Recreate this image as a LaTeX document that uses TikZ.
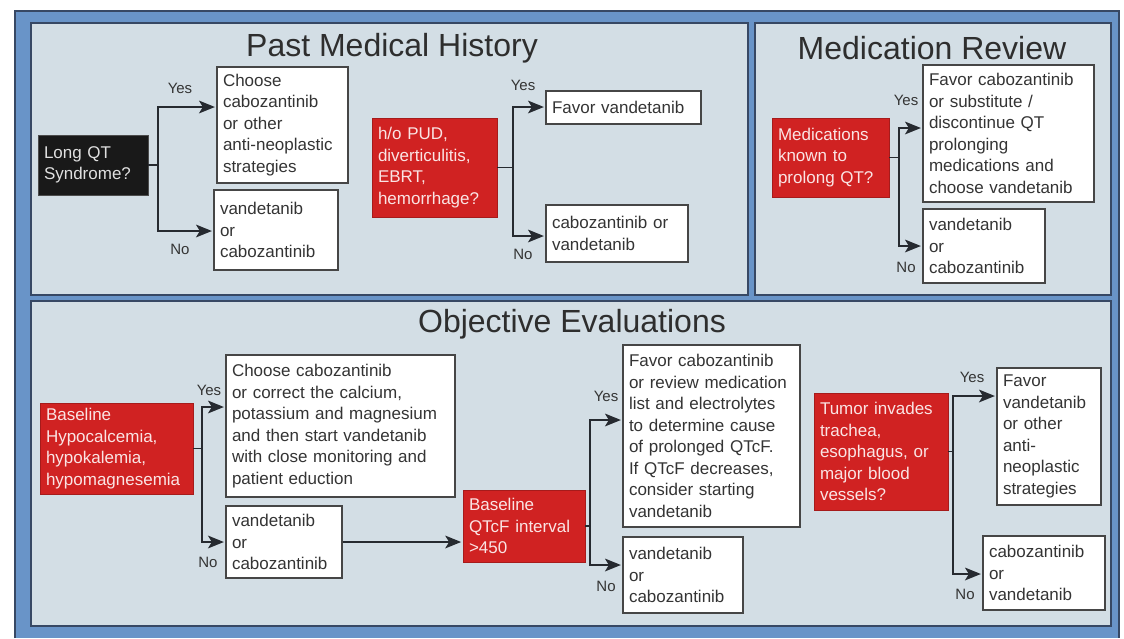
\documentclass[tikz,border=0pt]{standalone}
\usepackage{fontspec}
\setmainfont{Liberation Sans}
\usetikzlibrary{arrows.meta}
\definecolor{bandblue}{RGB}{105,148,200}
\definecolor{panelfill}{RGB}{211,222,229}
\definecolor{darkline}{RGB}{55,72,100}
\definecolor{redbox}{RGB}{208,34,34}
\definecolor{txtgray}{RGB}{52,52,52}
\definecolor{conn}{RGB}{38,42,48}
\definecolor{boxline}{RGB}{70,70,70}
\definecolor{redtext}{RGB}{250,228,228}
\newcommand\mybox[7]{%
  \pgfmathsetmacro\bw{#5-#3}\pgfmathsetmacro\bh{#6-#4}\pgfmathsetmacro\tw{#5-#3-12}%
  \pgfmathsetmacro\cx{(#3+#5)/2}\pgfmathsetmacro\cy{(#4+#6)/2}%
  \node[#1, minimum width=\bw pt, minimum height=\bh pt, text width=\tw pt] (#2) at (\cx,\cy) {#7};}
\tikzset{
  basebox/.style={rectangle, inner xsep=6pt, inner ysep=2pt, align=left,
    font=\fontsize{17}{21.5}\selectfont},
  wbox/.style={basebox, draw=boxline, line width=1.3pt, fill=white, text=txtgray},
  rbox/.style={basebox, fill=redbox, draw=redbox!80!black, line width=0.8pt, text=redtext},
  kbox/.style={basebox, fill=black!90, draw=black!70, line width=0.8pt, text=white!88!black},
  paneltitle/.style={font=\fontsize{32}{36}\selectfont, text=black!82, inner sep=0pt},
  yn/.style={font=\fontsize{15}{17}\selectfont, text=txtgray, inner sep=0pt},
  conline/.style={draw=conn, line width=1.5pt},
  arr/.style={conline, -{Stealth[length=16pt,width=13pt,inset=4pt,line width=0pt]}, shorten >=1.5pt},
  panel/.style={fill=panelfill, draw=darkline, line width=1.2pt},
}
\begin{document}
\begin{tikzpicture}[x=1pt,y=-1pt]
\useasboundingbox (0,0) rectangle (1124,638);
\fill[white] (0,0) rectangle (1124,638);
% frame
\fill[bandblue] (15,11) rectangle (1119,638);
\draw[darkline, line width=1.2pt] (15,638) -- (15,11) -- (1119,11) -- (1119,638);
\draw[panel] (31,23) rectangle (748,295);
\draw[panel] (755,23) rectangle (1111,295);
\draw[panel] (31,301) rectangle (1111,626);

% ---------- Past Medical History ----------
\node[paneltitle] (t1) at (392,48) {Past Medical History};
\mybox{kbox}{lq}{38}{135}{148}{195}{Long QT\\Syndrome?}
\mybox{wbox}{c1}{217}{67}{348}{183}{Choose\\cabozantinib\\or other\\anti-neoplastic\\strategies}
\mybox{wbox}{c2}{214}{190}{338}{270}{vandetanib\\or\\cabozantinib}
\coordinate (j1y) at (158,107);
\coordinate (j1n) at (158,231);
\draw[arr] (lq.east) -| (j1y) -- (j1y -| c1.west);
\draw[arr] (lq.east) -| (j1n) -- (j1n -| c2.west);
\node[yn] (y1) at (180,88) {Yes};
\node[yn] (n1) at (180,249) {No};

\mybox{rbox}{pud}{372}{118}{497}{217}{h/o PUD,\\diverticulitis,\\EBRT,\\hemorrhage?}
\mybox{wbox}{fv}{546}{91}{701}{124}{Favor vandetanib}
\mybox{wbox}{cv}{546}{205}{688}{262}{cabozantinib or\\vandetanib}
\coordinate (j2y) at (513,107);
\coordinate (j2n) at (513,236);
\draw[arr] (pud.east) -| (j2y) -- (j2y -| fv.west);
\draw[arr] (pud.east) -| (j2n) -- (j2n -| cv.west);
\node[yn] (y2) at (523,85) {Yes};
\node[yn] (n2) at (523,254) {No};

% ---------- Medication Review ----------
\node[paneltitle] (t2) at (932,48) {Medication Review};
\mybox{rbox}{med}{772}{118}{889}{197}{Medications\\known to\\prolong QT?}
\mybox{wbox}{mf}{923}{65}{1094}{202}{Favor cabozantinib\\or substitute /\\discontinue QT\\prolonging\\medications and\\choose vandetanib}
\mybox{wbox}{mv}{923}{209}{1045}{283}{vandetanib\\or\\cabozantinib}
\coordinate (j3y) at (899,128);
\coordinate (j3n) at (899,246);
\draw[arr] (med.east) -| (j3y) -- (j3y -| mf.west);
\draw[arr] (med.east) -| (j3n) -- (j3n -| mv.west);
\node[yn] (y3) at (906,100) {Yes};
\node[yn] (n3) at (906,267) {No};

% ---------- Objective Evaluations ----------
\node[paneltitle] (t3) at (572,324) {Objective Evaluations};
\mybox{rbox}{hc}{40}{403}{193}{494}{Baseline\\Hypocalcemia,\\hypokalemia,\\hypomagnesemia}
\mybox{wbox}{oc}{226}{355}{455}{497}{Choose cabozantinib\\or correct the calcium,\\potassium and magnesium\\and then start vandetanib\\with close monitoring and\\patient eduction}
\mybox{wbox}{ov}{226}{506}{342}{578}{vandetanib\\or\\cabozantinib}
\coordinate (j4y) at (202,407);
\coordinate (j4n) at (202,542);
\draw[arr] (hc.east) -| (j4y) -- (j4y -| oc.west);
\draw[arr] (hc.east) -| (j4n) -- (j4n -| ov.west);
\node[yn] (y4) at (209,390) {Yes};
\node[yn] (n4) at (208,562) {No};

\mybox{rbox}{qt}{463}{490}{585}{562}{Baseline\\QTcF interval\\>450}
\draw[arr] (ov.east) -- (ov.east -| qt.west);
\mybox{wbox}{of}{623}{345}{800}{527}{Favor cabozantinib\\or review medication\\list and electrolytes\\to determine cause\\of prolonged QTcF.\\If QTcF decreases,\\consider starting\\vandetanib}
\mybox{wbox}{ofv}{623}{537}{743}{613}{vandetanib\\or\\cabozantinib}
\coordinate (j5y) at (590,420);
\coordinate (j5n) at (590,565);
\draw[arr] (qt.east) -| (j5y) -- (j5y -| of.west);
\draw[arr] (qt.east) -| (j5n) -- (j5n -| ofv.west);
\node[yn] (y5) at (606,396) {Yes};
\node[yn] (n5) at (606,586) {No};

\mybox{rbox}{tu}{814}{393}{948}{510}{Tumor invades\\trachea,\\esophagus, or\\major blood\\vessels?}
\mybox{wbox}{tf}{997}{368}{1101}{505}{Favor\\vandetanib\\or other\\anti-\\neoplastic\\strategies}
\mybox{wbox}{tc}{983}{536}{1105}{610}{cabozantinib\\or\\vandetanib}
\coordinate (j6y) at (953,396);
\coordinate (j6n) at (953,574);
\draw[arr] (tu.east) -| (j6y) -- (j6y -| tf.west);
\draw[arr] (tu.east) -| (j6n) -- (j6n -| tc.west);
\node[yn] (y6) at (972,377) {Yes};
\node[yn] (n6) at (965,594) {No};
\end{tikzpicture}
\end{document}
